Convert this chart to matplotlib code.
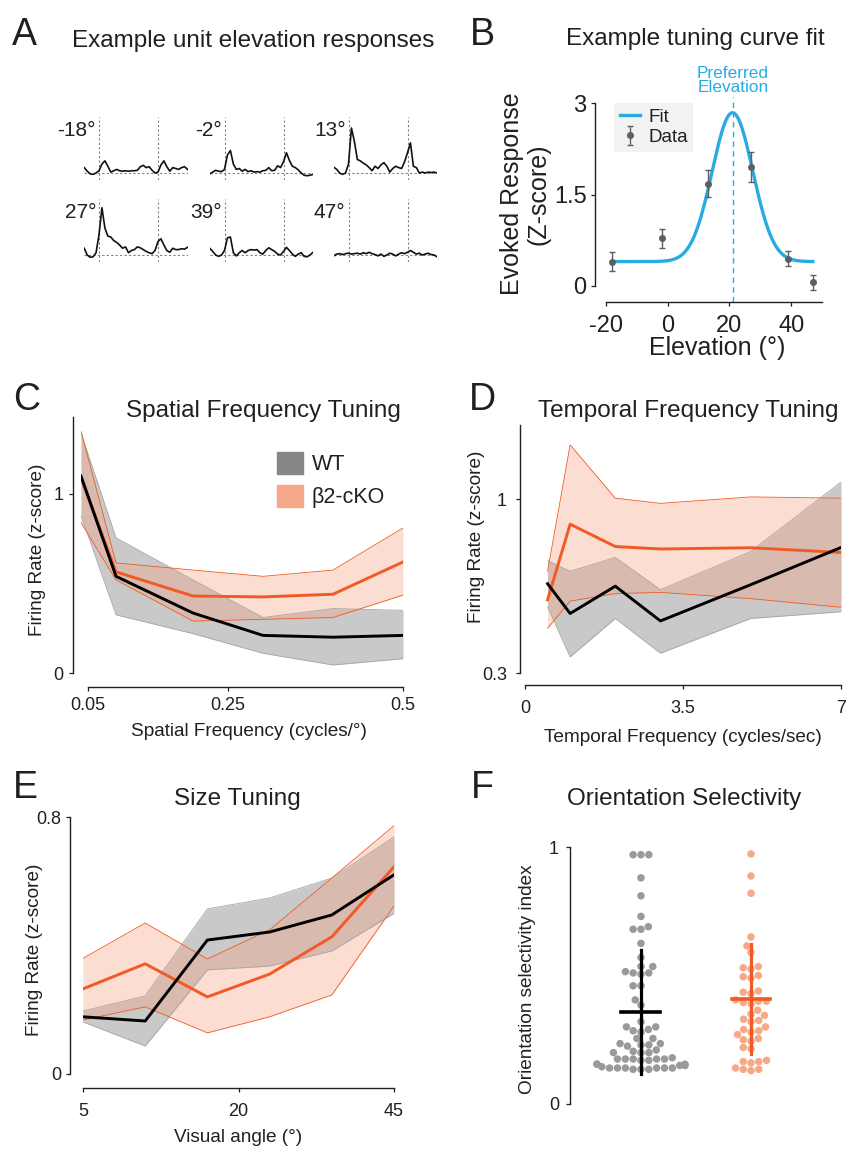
import numpy as np
import matplotlib
matplotlib.use('Agg')
import matplotlib.pyplot as plt
from matplotlib.patches import Patch
from matplotlib.lines import Line2D
import pandas as pd
import seaborn as sns

plt.rcParams['font.family'] = ['Liberation Sans', 'DejaVu Sans']
plt.rcParams['axes.unicode_minus'] = False
TXT = '#231F20'
plt.rcParams['text.color'] = TXT
plt.rcParams['axes.edgecolor'] = TXT
plt.rcParams['xtick.color'] = TXT
plt.rcParams['ytick.color'] = TXT
plt.rcParams['axes.linewidth'] = 1.0

# ---------------- DATA ----------------
# Panel A: example unit PSTHs (z-scored) per elevation
trace_time_s = [-0.25, -0.20, -0.15, -0.10, -0.05, 0.00, 0.05, 0.10, 0.15, 0.20, 0.25, 0.30,
                0.35, 0.40, 0.45, 0.50, 0.55, 0.60, 0.65, 0.70, 0.75, 0.80, 0.85, 0.90,
                0.95, 1.00, 1.05, 1.10, 1.15, 1.20, 1.25, 1.30, 1.35, 1.40, 1.45, 1.50]
trace_labels = ['-18°', '-2°', '13°', '27°', '39°', '47°']
trace_m18 = [0.12, 0.04, -0.02, -0.03, 0.00, 0.05, 0.20, 0.27, 0.15, 0.02, 0.05, 0.08,
             0.05, 0.04, 0.05, 0.04, 0.05, 0.05, 0.06, 0.14, 0.17, 0.12, 0.14, 0.06,
             0.00, 0.02, 0.18, 0.27, 0.14, 0.04, 0.12, 0.10, 0.08, 0.12, 0.14, 0.08]
trace_m2 = [-0.02, 0.02, 0.06, 0.04, 0.03, 0.08, 0.40, 0.50, 0.20, 0.08, 0.10, 0.04,
            0.08, 0.03, 0.05, 0.02, 0.03, 0.02, 0.05, 0.06, 0.12, 0.05, 0.06, 0.16,
            0.12, 0.25, 0.45, 0.28, 0.15, 0.12, 0.07, 0.00, -0.05, -0.06, -0.05, -0.03]
trace_13 = [0.13, 0.08, 0.00, -0.03, 0.00, 0.20, 1.00, 0.70, 0.30, 0.27, 0.22, 0.18,
            0.12, 0.05, 0.15, 0.10, 0.18, 0.23, 0.15, 0.02, 0.10, 0.15, 0.12, 0.10,
            0.25, 0.45, 0.67, 0.15, 0.12, 0.00, 0.02, 0.00, 0.02, 0.01, 0.02, 0.00]
trace_27 = [0.15, 0.00, -0.05, -0.04, 0.05, 0.45, 1.05, 0.60, 0.42, 0.40, 0.32, 0.28,
            0.22, 0.15, 0.18, 0.05, 0.10, 0.12, 0.18, 0.16, 0.12, 0.08, 0.05, 0.03,
            0.10, 0.30, 0.36, 0.22, 0.10, 0.06, 0.15, 0.12, 0.12, 0.14, 0.13, 0.17]
trace_39 = [0.15, 0.08, 0.00, -0.03, 0.00, 0.10, 0.38, 0.40, 0.05, -0.02, 0.05, 0.10,
            0.05, 0.10, 0.12, 0.11, 0.12, 0.05, 0.02, 0.10, 0.16, 0.12, 0.08, 0.02,
            0.00, 0.08, 0.17, 0.10, 0.02, -0.03, 0.02, 0.05, -0.03, -0.04, 0.00, 0.06]
trace_47 = [-0.02, 0.02, 0.03, 0.01, 0.03, 0.04, 0.02, 0.03, 0.04, 0.02, 0.05, 0.03,
            0.06, 0.03, 0.01, -0.02, 0.02, -0.03, 0.00, 0.04, 0.02, -0.02, 0.02, 0.05,
            0.03, 0.06, 0.10, 0.06, 0.02, 0.04, 0.00, 0.02, 0.04, 0.01, 0.00, -0.04]
stim_on_s, stim_off_s = 0.0, 1.0

# Panel B: tuning curve
elev_deg = [-18, -2, 13, 27, 39, 47]
elev_resp = [0.40, 0.78, 1.68, 1.95, 0.45, 0.06]
elev_err = [0.15, 0.15, 0.22, 0.25, 0.12, 0.12]
fit_baseline, fit_amp, fit_center, fit_sigma = 0.40, 2.44, 21.0, 6.6   # Gaussian fit parameters

# Panel C: spatial frequency
sf = [0.04, 0.09, 0.20, 0.30, 0.40, 0.50]
sf_wt = [1.10, 0.54, 0.335, 0.21, 0.20, 0.21]
sf_wt_lo = [0.88, 0.325, 0.22, 0.11, 0.045, 0.08]
sf_wt_hi = [1.34, 0.755, 0.52, 0.31, 0.36, 0.35]
sf_ko = [1.09, 0.565, 0.43, 0.425, 0.44, 0.62]
sf_ko_lo = [0.84, 0.52, 0.29, 0.30, 0.31, 0.435]
sf_ko_hi = [1.35, 0.615, 0.575, 0.54, 0.575, 0.81]

# Panel D: temporal frequency
tf = [0.5, 1, 2, 3, 5, 7]
tf_wt = [0.66, 0.54, 0.65, 0.51, 0.656, 0.806]
tf_wt_lo = [0.567, 0.365, 0.52, 0.38, 0.52, 0.547]
tf_wt_hi = [0.753, 0.71, 0.766, 0.636, 0.79, 1.07]
tf_ko = [0.595, 0.90, 0.81, 0.80, 0.805, 0.786]
tf_ko_lo = [0.48, 0.59, 0.62, 0.625, 0.60, 0.565]
tf_ko_hi = [0.71, 1.22, 1.005, 0.984, 1.01, 1.005]

# Panel E: size tuning (6 stimulus sizes, evenly spaced on the axis)
size_idx = [0, 1, 2, 3, 4, 5]
size_tick_pos = [0, 2.5, 5]
size_tick_labels = ['5', '20', '45']
sz_wt = [0.178, 0.165, 0.417, 0.442, 0.495, 0.62]
sz_wt_lo = [0.162, 0.087, 0.324, 0.336, 0.383, 0.50]
sz_wt_hi = [0.196, 0.243, 0.514, 0.548, 0.61, 0.738]
sz_ko = [0.265, 0.343, 0.24, 0.311, 0.427, 0.645]
sz_ko_lo = [0.168, 0.209, 0.128, 0.178, 0.246, 0.523]
sz_ko_hi = [0.36, 0.47, 0.358, 0.449, 0.61, 0.773]

# Panel F: orientation selectivity index per unit
osi_wt = [0.97, 0.97, 0.97, 0.88, 0.81, 0.73, 0.69, 0.68, 0.68, 0.625, 0.57, 0.535, 0.535,
          0.515, 0.51, 0.51, 0.505, 0.46, 0.46, 0.405, 0.385,
          0.32, 0.30, 0.30, 0.29, 0.285, 0.28, 0.255, 0.255,
          0.235, 0.235, 0.23, 0.225, 0.23, 0.205, 0.20, 0.21, 0.20, 0.20,
          0.175, 0.175, 0.17, 0.175, 0.18, 0.175, 0.175, 0.17,
          0.155, 0.15, 0.15, 0.155, 0.155,
          0.14, 0.135, 0.135, 0.14, 0.14, 0.14, 0.135, 0.14, 0.145, 0.14]
osi_ko = [0.973, 0.887, 0.82, 0.65, 0.615, 0.59, 0.535, 0.53, 0.525, 0.50, 0.495, 0.49,
          0.44, 0.435, 0.43, 0.405, 0.40, 0.40, 0.395, 0.39, 0.365, 0.35, 0.345, 0.33,
          0.325, 0.32, 0.30, 0.29, 0.285, 0.28, 0.27, 0.255, 0.25, 0.245, 0.22, 0.215,
          0.17, 0.165, 0.165, 0.16, 0.14, 0.135, 0.135, 0.13]
osi_wt_mean, osi_wt_sd = 0.358, 0.24
osi_ko_mean, osi_ko_sd = 0.408, 0.213
groups = ['WT', 'β2-cKO']

# ---------------- STYLE ----------------
W, H = 848, 1151
fig = plt.figure(figsize=(W / 100, H / 100), dpi=100)

BLUE = '#29ABE2'
KO_LINE = '#F15A24'
KO_FILL = '#F5A283'
WT_FILL = '#7F7F7F'
KO_DOT = '#F7A887'
WT_DOT = '#9A9A9A'


def ax_px(x0, y0, x1, y1):
    return fig.add_axes([x0 / W, 1 - y1 / H, (x1 - x0) / W, (y1 - y0) / H])


def txt(x, y, s, **kw):
    return fig.text(x / W, 1 - y / H, s, **kw)


def style(ax, left_px, bottom_px, xb=None, yb=None, lsize=13, xpad=4, ypad=4):
    ax.spines['top'].set_visible(False)
    ax.spines['right'].set_visible(False)
    ax.spines['left'].set_position(('outward', left_px * 0.72))
    ax.spines['bottom'].set_position(('outward', bottom_px * 0.72))
    if xb is not None:
        ax.spines['bottom'].set_bounds(*xb)
    if yb is not None:
        ax.spines['left'].set_bounds(*yb)
    ax.tick_params(direction='out', length=3, width=0.9, labelsize=lsize)
    ax.tick_params(axis='x', pad=xpad)
    ax.tick_params(axis='y', pad=ypad)
    ax.patch.set_alpha(0)


LETTER = 27
TITLE = 17.5
LAB = 13.7

# ---------------- PANEL A ----------------
txt(12, 45, 'A', fontsize=LETTER, va='baseline')
txt(253, 47, 'Example unit elevation responses', fontsize=TITLE, ha='center', va='baseline')
traces = [trace_m18, trace_m2, trace_13, trace_27, trace_39, trace_47]
col_on = [99, 224.5, 348.5]
row_base = [173, 255]
for i, tr in enumerate(traces):
    r, c = divmod(i, 3)
    on, base = col_on[c], row_base[r]
    ax = ax_px(on - 0.25 * 59, base - 1.24 * 45, on + 1.5 * 59, base + 0.16 * 45)
    ax.set_xlim(-0.25, 1.5)
    ax.set_ylim(-0.16, 1.24)
    ax.axis('off')
    for xv in (stim_on_s, stim_off_s):
        ax.axvline(xv, color='#808080', lw=0.8, ls=(0, (2, 2)))
    ax.axhline(0, color='#808080', lw=0.8, ls=(0, (2, 2)))
    ax.plot(trace_time_s, tr, color='#111111', lw=1.2, solid_joinstyle='round')
    txt(on - 3, base - 43, trace_labels[i], fontsize=15, ha='right', va='center')

# ---------------- PANEL B ----------------
txt(470, 45, 'B', fontsize=LETTER, va='baseline')
txt(695, 45, 'Example tuning curve fit', fontsize=TITLE, ha='center', va='baseline')
axB = ax_px(606, 103, 822, 286)
axB.set_xlim(-20, 50)
axB.set_ylim(0, 3)
style(axB, 11, 16, xb=(-20, 50), yb=(0, 3), lsize=17, xpad=6, ypad=3)
xf = np.linspace(elev_deg[0], elev_deg[-1], 300)
yf = fit_baseline + fit_amp * np.exp(-(xf - fit_center) ** 2 / (2 * fit_sigma ** 2))
fit_line, = axB.plot(xf, yf, color=BLUE, lw=2.4, label='Fit', zorder=3)
axB.plot([fit_center, fit_center], [-0.26, 3.1], color=BLUE, lw=1.0, ls=(0, (4, 3)),
         clip_on=False, zorder=2)
eb = axB.errorbar(elev_deg, elev_resp, yerr=elev_err, fmt='o', color='#5E5E5E', ms=4,
                  elinewidth=1, capsize=2, capthick=1, label='Data', clip_on=False, zorder=4)
for art in eb.get_children():
    art.set_clip_on(False)
axB.set_xticks([-20, 0, 20, 40])
axB.set_xticklabels(['-20', '0', '20', '40'])
axB.set_yticks([0, 1.5, 3])
axB.set_yticklabels(['0', '1.5', '3'])
leg = axB.legend(handles=[fit_line, eb], loc='upper left',
                 bbox_to_anchor=(614 / W, 1 - 103 / H), bbox_transform=fig.transFigure,
                 borderaxespad=0, fontsize=13.6, frameon=True, fancybox=False,
                 handlelength=1.1, handletextpad=0.4, borderpad=0.3, labelspacing=0.15)
leg.get_frame().set_facecolor('#F1F2F2')
leg.get_frame().set_edgecolor('none')
leg.get_frame().set_alpha(1)
txt(733, 80.5, 'Preferred\nElevation', fontsize=12.4, color=BLUE, ha='center', va='center',
    linespacing=0.95)
txt(525, 194, 'Evoked Response\n(Z-score)', fontsize=18, rotation=90, ha='center',
    va='center', linespacing=1.15, multialignment='center')
txt(717, 348, 'Elevation (°)', fontsize=18, ha='center', va='center')


def bands(ax, x, wm, wlo, whi, km, klo, khi):
    ax.fill_between(x, wlo, whi, color=WT_FILL, alpha=0.42, lw=0, zorder=1)
    ax.fill_between(x, klo, khi, color=KO_FILL, alpha=0.36, lw=0, zorder=2)
    ax.plot(x, whi, color='#A6A6A6', lw=0.6, zorder=3)
    ax.plot(x, wlo, color='#A6A6A6', lw=0.6, zorder=3)
    ax.plot(x, khi, color=KO_LINE, lw=0.6, zorder=3)
    ax.plot(x, klo, color=KO_LINE, lw=0.6, zorder=3)
    ax.plot(x, km, color=KO_LINE, lw=2.1, zorder=4)
    ax.plot(x, wm, color='black', lw=2.1, zorder=5)


# ---------------- PANEL C ----------------
txt(13, 410, 'C', fontsize=LETTER, va='baseline')
txt(263.5, 417, 'Spatial Frequency Tuning', fontsize=TITLE, ha='center', va='baseline')
axC = ax_px(81, 417, 403, 673)
axC.set_xlim(0.04, 0.5)
axC.set_ylim(0, 1.43)
style(axC, 8, 14, xb=(0.05, 0.5), yb=(0, 1.43), xpad=4, ypad=4)
bands(axC, sf, sf_wt, sf_wt_lo, sf_wt_hi, sf_ko, sf_ko_lo, sf_ko_hi)
axC.set_xticks([0.05, 0.25, 0.5])
axC.set_xticklabels(['0.05', '0.25', '0.5'])
axC.set_yticks([0, 1])
axC.set_yticklabels(['0', '1'])
axC.legend(handles=[Patch(color='#878787', label=groups[0]),
                    Patch(color='#F8A88A', label=groups[1])],
           loc='upper left', bbox_to_anchor=(277 / W, 1 - 452 / H),
           bbox_transform=fig.transFigure, borderaxespad=0, frameon=False,
           fontsize=15.5, handlelength=1.2, handleheight=1.2, handletextpad=0.42,
           labelspacing=0.45, borderpad=0)
txt(38, 550, 'Firing Rate (z-score)', fontsize=LAB, rotation=90, ha='center', va='center')
txt(249, 731, 'Spatial Frequency (cycles/°)', fontsize=LAB, ha='center', va='center')

# ---------------- PANEL D ----------------
txt(469, 410, 'D', fontsize=LETTER, va='baseline')
txt(688.5, 417, 'Temporal Frequency Tuning', fontsize=TITLE, ha='center', va='baseline')
axD = ax_px(525, 425, 841, 673)
axD.set_xlim(0, 7)
axD.set_ylim(0.3, 1.30)
style(axD, 5, 12, xb=(0, 7), yb=(0.3, 1.30), xpad=8, ypad=6.5)
bands(axD, tf, tf_wt, tf_wt_lo, tf_wt_hi, tf_ko, tf_ko_lo, tf_ko_hi)
axD.set_xticks([0, 3.5, 7])
axD.set_xticklabels(['0', '3.5', '7'])
axD.set_yticks([0.3, 1])
axD.set_yticklabels(['0.3', '1'])
txt(476, 537, 'Firing Rate (z-score)', fontsize=LAB, rotation=90, ha='center', va='center')
txt(683, 737, 'Temporal Frequency (cycles/sec)', fontsize=LAB, ha='center', va='center')

# ---------------- PANEL E ----------------
txt(13, 798, 'E', fontsize=LETTER, va='baseline')
txt(237.5, 805, 'Size Tuning', fontsize=TITLE, ha='center', va='baseline')
axE = ax_px(83, 817, 394, 1074)
axE.set_xlim(0, 5)
axE.set_ylim(0, 0.8)
style(axE, 13, 14, xb=(0, 5), yb=(0, 0.8), xpad=8, ypad=3)
bands(axE, size_idx, sz_wt, sz_wt_lo, sz_wt_hi, sz_ko, sz_ko_lo, sz_ko_hi)
axE.set_xticks(size_tick_pos)
axE.set_xticklabels(size_tick_labels)
axE.set_yticks([0, 0.8])
axE.set_yticklabels(['0', '0.8'])
txt(35, 950, 'Firing Rate (z-score)', fontsize=LAB, rotation=90, ha='center', va='center')
txt(238, 1138, 'Visual angle (°)', fontsize=LAB, ha='center', va='center')

# ---------------- PANEL F ----------------
txt(471, 798, 'F', fontsize=LETTER, va='baseline')
txt(684.5, 805, 'Orientation Selectivity', fontsize=TITLE, ha='center', va='baseline')
axF = ax_px(570, 847, 830, 1104)
df = pd.DataFrame({'group': [groups[0]] * len(osi_wt) + [groups[1]] * len(osi_ko),
                   'osi': osi_wt + osi_ko})
sns.swarmplot(data=df, x='group', y='osi', hue='group', order=groups,
              palette={groups[0]: WT_DOT, groups[1]: KO_DOT}, size=5.4, linewidth=0,
              ax=axF, legend=False, zorder=2)
axF.set_xlim(-0.645, 1.718)
axF.set_ylim(0, 1)
for s in ['top', 'right', 'bottom']:
    axF.spines[s].set_visible(False)
axF.tick_params(axis='y', direction='out', length=3, width=0.9, labelsize=13, pad=5)
axF.set_xticks([])
axF.set_xlabel('')
axF.set_ylabel('')
axF.set_yticks([0, 1])
axF.set_yticklabels(['0', '1'])
axF.patch.set_alpha(0)
for xc, m, sd, colr in [(0, osi_wt_mean, osi_wt_sd, 'black'),
                         (1, osi_ko_mean, osi_ko_sd, KO_LINE)]:
    axF.plot([xc, xc], [m - sd, m + sd], color=colr, lw=2.3, zorder=5)
    axF.plot([xc - 0.177, xc + 0.177], [m, m], color=colr, lw=2.6, zorder=5)
txt(528, 979, 'Orientation selectivity index', fontsize=LAB, rotation=90, ha='center',
    va='center')

fig.savefig('out.png', dpi=100)
